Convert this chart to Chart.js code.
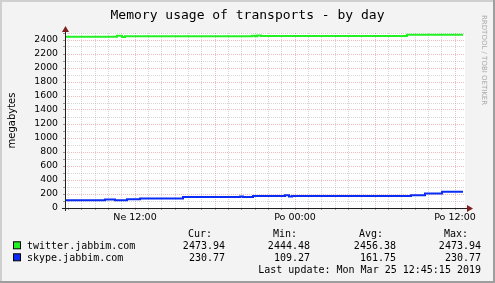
<!DOCTYPE html>
<html>
<head>
<meta charset="utf-8">
<script src="https://cdn.jsdelivr.net/npm/chart.js@4"></script>
<style>
html, body { margin: 0; padding: 0; background: #F3F3F3; }
canvas { display: block; }
</style>
</head>
<body>
<canvas id="myChart" width="495" height="283"></canvas>
<script>
// hours counted from Sunday 00:00
const twitterTimes  = [6.75, 10.65, 11.03, 11.25, 20.78, 21.0, 21.15, 21.45, 32.4, 36.6]
const twitterValues = [2445, 2459, 2444.5, 2455, 2462, 2455, 2466, 2456, 2474, 2474]

const skypeTimes  = [6.75, 9.75, 10.5, 11.4, 12.38, 15.6, 19.88, 20.1, 20.85, 23.25, 23.55, 23.78, 32.7, 33.75, 35.03, 36.6]
const skypeValues = [109.3, 121, 112, 124, 137, 158, 165, 158, 170, 182, 165, 170, 183, 207, 230.77, 230.77]

const xTickHours  = [12, 24, 36]
const xTickLabels = ['Ne 12:00', 'Po 00:00', 'Po 12:00']

const seriesNames = ['twitter.jabbim.com', 'skype.jabbim.com']
const seriesColors = ['#22f022', '#0a2cf5']
const statHeaders = ['Cur:', 'Min:', 'Avg:', 'Max:']
const twitterStats = ['2473.94', '2444.48', '2456.38', '2473.94']
const skypeStats = ['230.77', '109.27', '161.75', '230.77']
const lastUpdate = 'Last update: Mon Mar 25 12:45:15 2019'

const gridColor = 'rgba(143,143,143,0.36)'
const mgridColor = 'rgba(222,48,48,0.32)'

const toPoints = (times, values) => times.map((t, i) => ({x: t, y: values[i]}))

const rrdDecor = {
    id: 'rrdDecor',
    beforeDraw(chart) {
        const ctx = chart.ctx
        const a = chart.chartArea
        ctx.save()
        ctx.fillStyle = '#F3F3F3'
        ctx.fillRect(0, 0, 495, 283)
        // frame
        ctx.fillStyle = '#CFCFCF'
        ctx.fillRect(0, 0, 495, 2)
        ctx.fillRect(0, 0, 2, 283)
        ctx.fillStyle = '#9E9E9E'
        ctx.fillRect(0, 281, 495, 2)
        ctx.fillRect(493, 0, 2, 283)
        ctx.fillStyle = '#ffffff'
        ctx.fillRect(a.left, a.top, a.right - a.left, a.bottom - a.top)
        ctx.restore()
    },
    afterDatasetsDraw(chart) {
        const ctx = chart.ctx
        const a = chart.chartArea
        ctx.save()
        // axes
        ctx.strokeStyle = '#202020'
        ctx.lineWidth = 1
        ctx.beginPath()
        ctx.moveTo(a.left - 3, a.bottom + 0.5)
        ctx.lineTo(a.right + 4, a.bottom + 0.5)
        ctx.moveTo(a.left + 0.5, a.bottom + 3)
        ctx.lineTo(a.left + 0.5, a.top - 3)
        ctx.stroke()
        ctx.fillStyle = '#7F1F1F'
        ctx.beginPath()
        ctx.moveTo(a.right + 2, a.bottom - 3)
        ctx.lineTo(a.right + 8, a.bottom + 0.5)
        ctx.lineTo(a.right + 2, a.bottom + 4)
        ctx.fill()
        ctx.beginPath()
        ctx.moveTo(a.left - 3, a.top - 1)
        ctx.lineTo(a.left + 0.5, a.top - 7)
        ctx.lineTo(a.left + 4, a.top - 1)
        ctx.fill()

        // title
        ctx.fillStyle = '#000'
        ctx.font = '13px "DejaVu Sans Mono"'
        ctx.textAlign = 'center'
        ctx.textBaseline = 'alphabetic'
        ctx.fillText('Memory usage of transports - by day', 247.5, 18.5)

        // y label
        ctx.save()
        ctx.translate(12, (a.top + a.bottom) / 2)
        ctx.rotate(-Math.PI / 2)
        ctx.font = '10px "DejaVu Sans"'
        ctx.textBaseline = 'middle'
        ctx.fillText('megabytes', 0, 0)
        ctx.restore()

        // watermark
        ctx.save()
        ctx.translate(484, 15)
        ctx.rotate(Math.PI / 2)
        ctx.fillStyle = '#aaaaaa'
        ctx.font = '7px "DejaVu Sans"'
        ctx.textAlign = 'left'
        ctx.textBaseline = 'middle'
        ctx.fillText('RRDTOOL / TOBI OETIKER', 0, 0)
        ctx.restore()

        // legend
        ctx.font = '10px "DejaVu Sans Mono"'
        ctx.fillStyle = '#000'
        const colRight = [225, 310, 396, 481]
        ctx.textAlign = 'right'
        statHeaders.forEach((h, i) => ctx.fillText(h, colRight[i] - 13, 237))
        const rows = [twitterStats, skypeStats]
        rows.forEach((stats, r) => {
            const y = 249.3 + r * 12
            ctx.fillStyle = seriesColors[r]
            ctx.fillRect(13.5, y - 7.5, 7, 7)
            ctx.strokeStyle = '#000'
            ctx.strokeRect(13.5, y - 7.5, 7, 7)
            ctx.fillStyle = '#000'
            ctx.textAlign = 'left'
            ctx.fillText(seriesNames[r], 27, y)
            ctx.textAlign = 'right'
            stats.forEach((s, i) => ctx.fillText(s, colRight[i], y))
        })
        ctx.fillText(lastUpdate, 481, 272.7)
        ctx.restore()
    }
}

new Chart(document.getElementById('myChart'), {
    type: 'line',
    data: {
        datasets: [{
            label: seriesNames[0],
            data: toPoints(twitterTimes, twitterValues),
            borderColor: seriesColors[0],
            borderWidth: 2,
            stepped: true,
            pointRadius: 0,
            fill: false
        }, {
            label: seriesNames[1],
            data: toPoints(skypeTimes, skypeValues),
            borderColor: seriesColors[1],
            borderWidth: 2,
            stepped: true,
            pointRadius: 0,
            fill: false
        }]
    },
    options: {
        responsive: false,
        animation: false,
        devicePixelRatio: 1,
        layout: { padding: { top: 33, right: 30, bottom: 55, left: 0 } },
        plugins: { legend: { display: false }, title: { display: false }, tooltip: { enabled: false } },
        scales: {
            x: {
                type: 'linear',
                min: 6.75,
                max: 36.75,
                afterFit: (s) => { s.height = 20 },
                afterBuildTicks: (s) => {
                    const t = []
                    for (let h = 7; h <= 36; h++) t.push({ value: h })
                    s.ticks = t
                },
                grid: {
                    color: (c) => (c.tick && c.tick.value % 6 === 0) ? mgridColor : gridColor,
                    tickColor: '#999',
                    tickLength: 2
                },
                border: { display: false, dash: [1, 1] },
                ticks: {
                    autoSkip: false,
                    maxRotation: 0,
                    padding: 2,
                    color: '#000',
                    font: { family: 'DejaVu Sans', size: 9.5 },
                    callback: (v) => {
                        const i = xTickHours.indexOf(v)
                        return i >= 0 ? xTickLabels[i] : ''
                    }
                }
            },
            y: {
                min: 0,
                max: 2500,
                afterFit: (s) => { s.width = 65 },
                grid: {
                    color: (c) => (c.tick && c.tick.value % 200 === 0) ? mgridColor : gridColor,
                    tickColor: '#999',
                    tickLength: 2
                },
                border: { display: false, dash: [1, 1] },
                ticks: {
                    stepSize: 100,
                    autoSkip: false,
                    padding: 5,
                    color: '#000',
                    font: { family: 'DejaVu Sans', size: 9.3 },
                    callback: (v) => v % 200 === 0 ? String(v) : ''
                }
            }
        }
    },
    plugins: [rrdDecor]
})
</script>
</body>
</html>
